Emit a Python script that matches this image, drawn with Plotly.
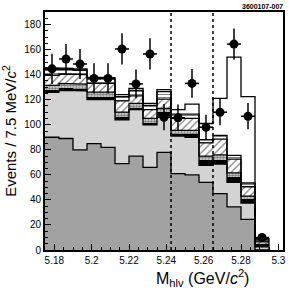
import plotly.graph_objects as go

# ---- data ----
bin_centers = [5.17875, 5.18625, 5.19375, 5.20125, 5.20875, 5.21625, 5.22375, 5.23125,
               5.23875, 5.24625, 5.25375, 5.26125, 5.26875, 5.27625, 5.28375, 5.29125]
bin_width = 0.0075

dark_gray = [90, 89, 80, 85, 82, 69, 75, 66, 78, 61, 60, 54, 45, 34.5, 24.5, 0]
light_top = [126, 127.5, 127, 120, 120, 104, 112, 100, 107, 91, 90, 67.5, 68.5, 54, 37.5, 2.5]
black_top = [127.5, 129, 128.5, 122, 122, 106, 113.5, 101.5, 110, 93, 92.5, 71.5, 72, 58, 41, 4]
dot_top = [131.5, 133, 132.5, 126, 126, 110, 117, 105, 113, 95.5, 95.5, 75, 76, 61.5, 43, 4.5]
hatch_top = [139.5, 140.5, 140, 133, 133, 119, 123, 112, 120.5, 105, 105, 85.5, 88.5, 72.5, 50.5, 6.5]
stripe_top = [144, 144.5, 143.5, 137, 136.5, 122.5, 127.5, 115.5, 126.5, 108.5, 108.5, 88, 91.5, 75.5, 53.5, 8]
total_top = [145.5, 145, 144.5, 138, 137.5, 124, 129, 117, 128, 112, 116.5, 101, 121, 154, 122.5, 9]

data_y = [144.6, 152.5, 148.5, 137, 137, 160.5, 132.6, 156.5,
          106, 105.6, 133, 98, 110, 164.4, 106.8, 10]
data_err = [12, 12, 12, 12, 12, 12.5, 11.5, 12.5, 10.5, 10.5, 11.5, 10, 10.5, 12.5, 10.5, 3]

cut_lines = [5.2425, 5.265]

# ---- helpers ----
def diff(a, b):
    return [x - y for x, y in zip(a, b)]

def steps(vals, close_right=True):
    xs, ys = [], []
    for c, v in zip(bin_centers, vals):
        xs += [c - bin_width / 2, c + bin_width / 2]
        ys += [v, v]
    if close_right:
        xs.append(bin_centers[-1] + bin_width / 2)
        ys.append(0)
    return xs, ys

fig = go.Figure()

layers = [
    (dark_gray, dict(color="#a2a2a2")),
    (diff(light_top, dark_gray), dict(color="#d3d3d3")),
    (diff(black_top, light_top), dict(color="#000000")),
    (diff(dot_top, black_top), dict(color="#bdbdbd",
                                    pattern=dict(shape=".", fgcolor="#222222", bgcolor="#d8d8d8",
                                                 size=3, solidity=0.55))),
    (diff(hatch_top, dot_top), dict(color="white",
                                    pattern=dict(shape="/", fgcolor="#000000", bgcolor="white",
                                                 size=5, solidity=0.25))),
    (diff(stripe_top, hatch_top), dict(color="white",
                                       pattern=dict(shape="-", fgcolor="#000000", bgcolor="white",
                                                    size=3, solidity=0.35))),
    (diff(total_top, stripe_top), dict(color="white")),
]
for vals, mk in layers:
    mk = dict(mk)
    mk["line"] = dict(width=0)
    fig.add_trace(go.Bar(x=bin_centers, y=vals, width=bin_width, marker=mk,
                         showlegend=False, hoverinfo="skip"))

for vals, close in [(dark_gray, True), (light_top, False), (hatch_top, False),
                    (dot_top, False), (stripe_top, False), (total_top, True)]:
    xs, ys = steps(vals, close)
    fig.add_trace(go.Scatter(x=xs, y=ys, mode="lines", line=dict(color="black", width=1.3),
                             showlegend=False, hoverinfo="skip"))

for xc in cut_lines:
    fig.add_trace(go.Scatter(x=[xc, xc], y=[0, 190], mode="lines",
                             line=dict(color="black", width=1.5, dash="dot"),
                             showlegend=False, hoverinfo="skip"))

fig.add_trace(go.Scatter(
    x=bin_centers, y=data_y, mode="markers",
    marker=dict(color="black", size=9),
    error_y=dict(type="data", array=data_err, color="black", thickness=1.5, width=0),
    error_x=dict(type="constant", value=bin_width / 2, color="black", thickness=1.5, width=0),
    showlegend=False, hoverinfo="skip"))

fig.update_layout(
    width=296, height=290,
    margin=dict(l=40, r=10, t=11, b=40),
    paper_bgcolor="white", plot_bgcolor="white",
    barmode="stack", bargap=0,
    font=dict(family="Liberation Sans, Arial, sans-serif", color="black", size=10),
    xaxis=dict(range=[5.175, 5.3025], tickvals=[5.18, 5.2, 5.22, 5.24, 5.26, 5.28, 5.3],
               ticktext=["5.18", "5.2", "5.22", "5.24", "5.26", "5.28", "5.3"],
               ticks="inside", ticklen=6, tickwidth=1, tickcolor="black",
               minor=dict(ticks="inside", dtick=0.005, ticklen=3, tickcolor="black"),
               showgrid=False, zeroline=False, showline=True, linecolor="black",
               linewidth=2, mirror=True, tickfont=dict(size=10)),
    yaxis=dict(range=[0, 190], tickvals=list(range(0, 181, 20)),
               ticks="inside", ticklen=6, tickwidth=1, tickcolor="black",
               minor=dict(ticks="inside", dtick=5, ticklen=3, tickcolor="black"),
               showgrid=False, zeroline=False, showline=True, linecolor="black",
               linewidth=2, mirror=True, tickfont=dict(size=10),
               title=dict(text="Events / 7.5 MeV/<i>c</i><sup>2</sup>", font=dict(size=15),
                          standoff=4)),
    annotations=[
        dict(text="M<sub>hlv</sub> (GeV/<i>c</i><sup>2</sup>)", xref="paper", yref="paper",
             x=0.866, y=-0.117, xanchor="right", yanchor="middle", showarrow=False,
             font=dict(size=16)),
        dict(text="<b>3600107-007</b>", xref="paper", yref="paper", x=1.01, y=1.0,
             xanchor="right", yanchor="bottom", showarrow=False, font=dict(size=7)),
    ],
)

fig.write_html("out.html", config={"displayModeBar": False},
               post_script="document.body.style.margin='0';")
